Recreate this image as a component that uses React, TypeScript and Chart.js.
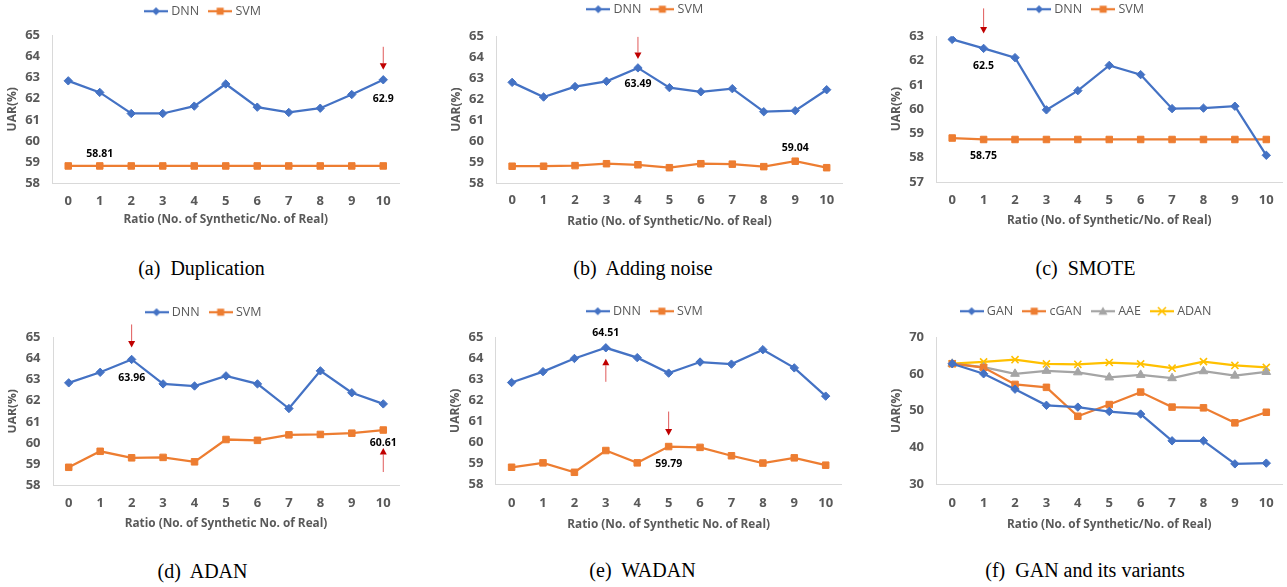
import React, { useEffect, useRef } from 'react';
import { Chart, registerables } from 'chart.js';

Chart.register(...registerables);

// ---------- data ----------
const ratios = ['0', '1', '2', '3', '4', '5', '6', '7', '8', '9', '10'];

const dupDNN = [62.85, 62.3, 61.3, 61.3, 61.65, 62.7, 61.6, 61.35, 61.55, 62.2, 62.9];
const dupSVM = [58.81, 58.81, 58.81, 58.81, 58.81, 58.81, 58.81, 58.81, 58.81, 58.81, 58.81];

const noiseDNN = [62.8, 62.1, 62.6, 62.85, 63.49, 62.55, 62.35, 62.5, 61.4, 61.45, 62.45];
const noiseSVM = [58.8, 58.8, 58.83, 58.92, 58.87, 58.73, 58.92, 58.9, 58.78, 59.04, 58.73];

const smoteDNN = [62.87, 62.5, 62.12, 59.97, 60.76, 61.8, 61.42, 60.02, 60.04, 60.12, 58.1];
const smoteSVM = [58.81, 58.75, 58.75, 58.75, 58.75, 58.75, 58.75, 58.75, 58.75, 58.75, 58.75];

const adanDNN = [62.85, 63.35, 63.96, 62.8, 62.7, 63.18, 62.8, 61.63, 63.42, 62.38, 61.85];
const adanSVM = [58.84, 59.6, 59.29, 59.31, 59.1, 60.16, 60.12, 60.38, 60.4, 60.46, 60.61];

const wadanDNN = [62.85, 63.37, 64.0, 64.51, 64.04, 63.3, 63.83, 63.73, 64.42, 63.55, 62.2];
const wadanSVM = [58.8, 59.01, 58.56, 59.6, 59.01, 59.79, 59.75, 59.35, 59.0, 59.25, 58.9];

const ganGAN = [62.85, 60.1, 55.9, 51.5, 51.0, 49.8, 49.1, 41.8, 41.8, 35.5, 35.7];
const ganCGAN = [62.85, 61.8, 57.2, 56.4, 48.5, 51.7, 55.1, 51.0, 50.8, 46.7, 49.6];
const ganAAE = [62.85, 61.9, 60.1, 60.9, 60.5, 59.1, 59.8, 58.9, 60.8, 59.6, 60.6];
const ganADAN = [62.85, 63.35, 63.96, 62.8, 62.7, 63.18, 62.8, 61.63, 63.42, 62.38, 61.85];

const rangeNarrow = [58, 65, 1];
const rangeSmote = [57, 63, 1];
const rangeGan = [30, 70, 10];

const titleSlash = 'Ratio (No. of Synthetic/No. of Real)';
const titleSpace = 'Ratio (No. of Synthetic No. of Real)';

// ---------- styles ----------
const BLUE = '#4472C4';
const ORANGE = '#ED7D31';
const GRAY = '#A5A5A5';
const GOLD = '#FFC000';
const TXT = '#595959';
const AXIS = '#D9D9D9';
const FONT = '"Open Sans", Lato, sans-serif';
const LEG_PAD = 12;
const LEG_FONT = 12.5;

type Shape = 'diamond' | 'square' | 'triangle' | 'x';

function legendIcon(color: string, shape: Shape): HTMLCanvasElement {
  const c = document.createElement('canvas');
  c.width = 24;
  c.height = 12;
  const g = c.getContext('2d')!;
  g.strokeStyle = color;
  g.lineWidth = 2.25;
  g.beginPath();
  g.moveTo(0, 6);
  g.lineTo(24, 6);
  g.stroke();
  g.fillStyle = color;
  g.beginPath();
  if (shape === 'diamond') {
    g.moveTo(12, 2); g.lineTo(16, 6); g.lineTo(12, 10); g.lineTo(8, 6); g.closePath(); g.fill();
  } else if (shape === 'square') {
    g.fillRect(8.5, 2.5, 7, 7);
  } else if (shape === 'triangle') {
    g.moveTo(12, 1.5); g.lineTo(16.5, 9.5); g.lineTo(7.5, 9.5); g.closePath(); g.fill();
  } else {
    g.lineWidth = 1.6;
    g.moveTo(8, 2); g.lineTo(16, 10); g.moveTo(16, 2); g.lineTo(8, 10); g.stroke();
  }
  return c;
}

const styleFor: Record<Shape, string> = { diamond: 'rectRot', square: 'rect', triangle: 'triangle', x: 'crossRot' };
const radiusFor: Record<Shape, number> = { diamond: 4.2, square: 4.6, triangle: 5, x: 5 };

function series(label: string, data: number[], color: string, shape: Shape) {
  return {
    label,
    data,
    borderColor: color,
    backgroundColor: color,
    pointBackgroundColor: color,
    pointBorderColor: color,
    pointStyle: styleFor[shape],
    pointRadius: radiusFor[shape],
    pointBorderWidth: shape === 'x' ? 1.6 : 1,
    borderWidth: 2.25,
    tension: 0,
    _shape: shape,
  };
}

type Annot = { ds: number; i: number; dy: number; arrow?: [number, number] };

const annotPlugin = {
  id: 'annot',
  afterDatasetsDraw(chart: any, _args: any, opts: any) {
    const ctx = chart.ctx as CanvasRenderingContext2D;
    const items: Annot[] = opts.items || [];
    for (const a of items) {
      const el = chart.getDatasetMeta(a.ds).data[a.i];
      const x = el.x;
      const y = el.y;
      const val = chart.data.datasets[a.ds].data[a.i];
      ctx.save();
      ctx.font = `bold 10.5px ${FONT}`;
      ctx.fillStyle = '#000';
      ctx.textAlign = 'center';
      ctx.textBaseline = 'middle';
      ctx.fillText(String(val), x, y + a.dy);
      if (a.arrow) {
        const [t0, t1] = a.arrow;
        const dir = Math.sign(t1 - t0);
        const tailY = y + t0;
        const tipY = y + t1;
        const headLen = 6.5;
        ctx.strokeStyle = '#E05A5A';
        ctx.lineWidth = 1;
        ctx.beginPath();
        ctx.moveTo(x, tailY);
        ctx.lineTo(x, tipY - dir * headLen);
        ctx.stroke();
        ctx.fillStyle = '#C00000';
        ctx.beginPath();
        ctx.moveTo(x, tipY);
        ctx.lineTo(x - 3.5, tipY - dir * headLen);
        ctx.lineTo(x + 3.5, tipY - dir * headLen);
        ctx.closePath();
        ctx.fill();
      }
      ctx.restore();
    }
  },
};

type Geo = { PL: number; PR: number; PT: number; PB: number; LC: number; LY: number; TK: number; TO: number };

type PanelDef = {
  geo: Geo;
  range: number[];
  datasets: any[];
  annots: Annot[];
  xTitle: string;
  caption: string;
  cap: [number, number];
};

const panels: PanelDef[] = [
  {
    geo: { PL: 52.5, PR: 399, PT: 36, PB: 183, LC: 204, LY: 11.7, TK: 18.7, TO: 37 },
    range: rangeNarrow,
    datasets: [series('DNN', dupDNN, BLUE, 'diamond'), series('SVM', dupSVM, ORANGE, 'square')],
    annots: [{ ds: 0, i: 10, dy: 19, arrow: [-33, -10] }, { ds: 1, i: 1, dy: -12 }],
    xTitle: titleSlash,
    caption: '(a)  Duplication',
    cap: [201.5, 275],
  },
  {
    geo: { PL: 496, PR: 842, PT: 36, PB: 183, LC: 645.8, LY: 9, TK: 17.5, TO: 38.5 },
    range: rangeNarrow,
    datasets: [series('DNN', noiseDNN, BLUE, 'diamond'), series('SVM', noiseSVM, ORANGE, 'square')],
    annots: [{ ds: 0, i: 4, dy: 16, arrow: [-31, -9] }, { ds: 1, i: 9, dy: -13 }],
    xTitle: titleSlash,
    caption: '(b)  Adding noise',
    cap: [643, 275],
  },
  {
    geo: { PL: 936.5, PR: 1282, PT: 36, PB: 182, LC: 1087, LY: 9, TK: 18, TO: 39 },
    range: rangeSmote,
    datasets: [series('DNN', smoteDNN, BLUE, 'diamond'), series('SVM', smoteSVM, ORANGE, 'square')],
    annots: [{ ds: 0, i: 1, dy: 18, arrow: [-40, -15] }, { ds: 1, i: 1, dy: 17 }],
    xTitle: titleSlash,
    caption: '(c)  SMOTE',
    cap: [1085.5, 275],
  },
  {
    geo: { PL: 53, PR: 399, PT: 338, PB: 485, LC: 204.5, LY: 312.7, TK: 18.3, TO: 38.3 },
    range: rangeNarrow,
    datasets: [series('DNN', adanDNN, BLUE, 'diamond'), series('SVM', adanSVM, ORANGE, 'square')],
    annots: [{ ds: 0, i: 2, dy: 19, arrow: [-35, -12] }, { ds: 1, i: 10, dy: 13, arrow: [42, 18] }],
    xTitle: titleSpace,
    caption: '(d)  ADAN',
    cap: [202.5, 578],
  },
  {
    geo: { PL: 496, PR: 841.5, PT: 338, PB: 484, LC: 645.8, LY: 311.7, TK: 19.3, TO: 41 },
    range: rangeNarrow,
    datasets: [series('DNN', wadanDNN, BLUE, 'diamond'), series('SVM', wadanSVM, ORANGE, 'square')],
    annots: [{ ds: 0, i: 3, dy: -15, arrow: [34, 11] }, { ds: 1, i: 5, dy: 17, arrow: [-35, -11] }],
    xTitle: titleSpace,
    caption: '(e)  WADAN',
    cap: [642.5, 577],
  },
  {
    geo: { PL: 936.5, PR: 1282, PT: 338, PB: 484, LC: 1087, LY: 311.7, TK: 19.3, TO: 41 },
    range: rangeGan,
    datasets: [
      series('GAN', ganGAN, BLUE, 'diamond'),
      series('cGAN', ganCGAN, ORANGE, 'square'),
      series('AAE', ganAAE, GRAY, 'triangle'),
      series('ADAN', ganADAN, GOLD, 'x'),
    ],
    annots: [],
    xTitle: titleSlash,
    caption: '(f)  GAN and its variants',
    cap: [1085, 577],
  },
];

const X_AXIS_H = 60;
const TICK_FONT = 13;
const XT_FONT = 11.8;
const YT_FONT = 12;

function Panel({ def }: { def: PanelDef }) {
  const ref = useRef<HTMLCanvasElement>(null);
  const g = def.geo;
  const cx = 2 * g.LC - g.PR - 2;
  const W = Math.round(g.PR + 10 - cx);
  const T = g.LY - LEG_PAD - LEG_FONT / 2;
  const H = Math.round(g.PB - T + X_AXIS_H);
  const padR = cx + W - g.PR;
  const yWidth = g.PL + g.PR - 2 * g.LC;
  const gap = g.PT - g.LY - LEG_FONT / 2 - 10;

  useEffect(() => {
    if (!ref.current) return;
    const icons = def.datasets.map((d: any) => legendIcon(d.borderColor, d._shape));
    const chart = new Chart(ref.current, {
      type: 'line',
      data: { labels: ratios, datasets: def.datasets.map((d: any) => ({ ...d })) },
      options: {
        responsive: false,
        animation: false,
        devicePixelRatio: 1,
        layout: { padding: { left: 2, right: padR, top: 0, bottom: 0 } },
        plugins: {
          legend: {
            position: 'top',
            labels: {
              usePointStyle: true,
              pointStyleWidth: 18,
              padding: LEG_PAD,
              color: TXT,
              font: { family: FONT, size: LEG_FONT },
              generateLabels: (chart: any) =>
                chart.data.datasets.map((d: any, i: number) => ({
                  text: d.label,
                  pointStyle: icons[i],
                  fillStyle: d.borderColor,
                  strokeStyle: d.borderColor,
                  lineWidth: 0,
                  hidden: false,
                  datasetIndex: i,
                  fontColor: TXT,
                })),
            },
          },
          tooltip: { enabled: false },
          annot: { items: def.annots },
        } as any,
        scales: {
          x: {
            type: 'category',
            position: 'bottom',
            offset: true,
            grid: { display: false, drawTicks: false },
            border: { display: true, color: AXIS, width: 1 },
            ticks: {
              color: TXT,
              font: { family: FONT, size: TICK_FONT, weight: 'bold', lineHeight: 1 },
              padding: g.TK - TICK_FONT / 2,
              autoSkip: false,
              maxRotation: 0,
              minRotation: 0,
            },
            title: {
              display: true,
              text: def.xTitle,
              color: TXT,
              font: { family: FONT, size: XT_FONT, weight: 'bold', lineHeight: 1 },
              padding: { top: 0, bottom: X_AXIS_H - g.TO - XT_FONT / 2 },
            },
            afterFit: (s: any) => {
              s.height = X_AXIS_H;
            },
          },
          gapAxis: {
            type: 'category',
            position: 'top',
            display: true,
            grid: { display: false, drawTicks: false },
            border: { display: false },
            ticks: { display: false },
            afterFit: (s: any) => {
              s.height = gap;
            },
          },
          y: {
            type: 'linear',
            position: 'left',
            min: def.range[0],
            max: def.range[1],
            grid: { display: false, drawTicks: false },
            border: { display: true, color: AXIS, width: 1 },
            ticks: {
              stepSize: def.range[2],
              color: TXT,
              font: { family: FONT, size: TICK_FONT, weight: 'bold' },
              padding: 12.5,
            },
            title: {
              display: true,
              text: 'UAR(%)',
              color: TXT,
              font: { family: FONT, size: YT_FONT, weight: 'bold', lineHeight: 1 },
              padding: { top: yWidth - 40 - YT_FONT / 2, bottom: 0 },
            },
            afterFit: (s: any) => {
              s.width = yWidth;
            },
          },
        } as any,
      },
      plugins: [annotPlugin as any],
    } as any);
    return () => chart.destroy();
  }, []);

  return (
    <canvas
      ref={ref}
      width={W}
      height={H}
      style={{ position: 'absolute', left: cx, top: T, width: W, height: H }}
    />
  );
}

function Caption({ text, cx, base }: { text: string; cx: number; base: number }) {
  return (
    <div
      style={{
        position: 'absolute',
        left: cx - 200,
        width: 400,
        top: base - 16.75,
        height: 20,
        lineHeight: '20px',
        fontSize: 20,
        fontFamily: '"Liberation Serif", "Times New Roman", serif',
        color: '#000',
        textAlign: 'center',
        whiteSpace: 'pre',
      }}
    >
      {text}
    </div>
  );
}

export default function App() {
  return (
    <div
      style={{
        position: 'absolute',
        left: 0,
        top: 0,
        width: 1287,
        height: 587,
        overflow: 'hidden',
        background: '#fff',
      }}
    >
      {panels.map((p, k) => (
        <Panel key={k} def={p} />
      ))}
      {panels.map((p, k) => (
        <Caption key={'c' + k} text={p.caption} cx={p.cap[0]} base={p.cap[1]} />
      ))}
    </div>
  );
}
